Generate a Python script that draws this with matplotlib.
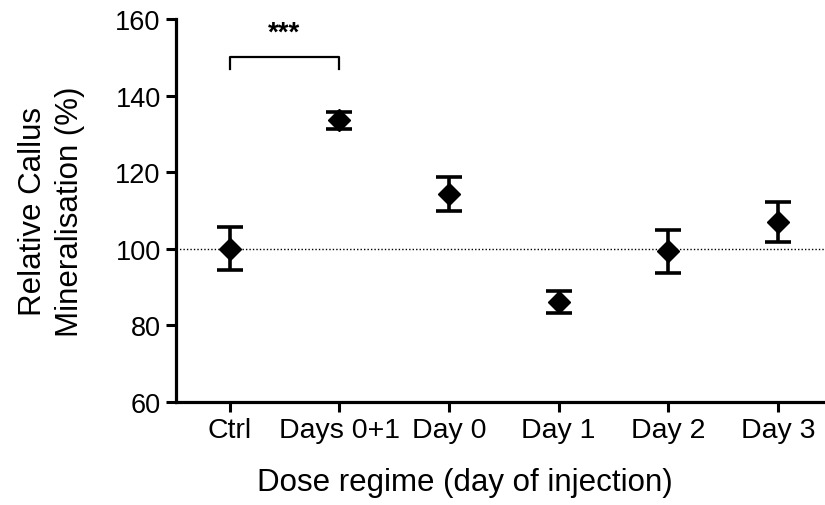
import matplotlib
matplotlib.use("Agg")
import matplotlib.pyplot as plt

plt.rcParams['font.family'] = ['Liberation Sans', 'DejaVu Sans']

groups = ["Ctrl", "Days 0+1", "Day 0", "Day 1", "Day 2", "Day 3"]
means = [100.0, 133.5, 114.3, 86.1, 99.3, 107.0]
errors = [5.6, 2.3, 4.4, 2.8, 5.5, 5.3]
y_ticks = [60, 80, 100, 120, 140, 160]

fig = plt.figure(figsize=(8.25, 5.06), dpi=100)
ax = fig.add_axes([0.2133, 0.2036, 0.7867, 0.7569])

x = list(range(len(groups)))

# reference line at 100 %
ax.axhline(100, color="black", linestyle=(0, (1, 1.5)), linewidth=1.0, zorder=1)

ax.errorbar(x, means, yerr=errors, fmt="D", color="black", markersize=11,
            elinewidth=2.6, capsize=9.5, capthick=2.6, zorder=3)

# significance bracket Ctrl vs Days 0+1
ax.plot([0, 0, 1, 1], [147, 150, 150, 147], color="black", linewidth=1.6,
        clip_on=False)
ax.text(0.5, 153, "***", ha="center", va="bottom", fontsize=20,
        fontweight="bold")

ax.set_xlim(-0.49, 5.43)
ax.set_ylim(60, 160)
ax.set_xticks(x)
ax.set_xticklabels(groups)
ax.set_yticks(y_ticks)

for side in ["top", "right"]:
    ax.spines[side].set_visible(False)
for side in ["left", "bottom"]:
    ax.spines[side].set_linewidth(2.3)
ax.tick_params(axis="both", direction="out", length=7, width=2.2,
               labelsize=19.5, pad=4)
ax.tick_params(axis="x", labelsize=20.5)

ax.set_xlabel("Dose regime (day of injection)", fontsize=22.5, labelpad=14)
ax.xaxis.set_label_coords(0.445, -0.17)
ax.set_ylabel("Relative Callus\nMineralisation (%)", fontsize=22.5,
              labelpad=22, linespacing=1.3)

fig.savefig("out.png", dpi=100)
